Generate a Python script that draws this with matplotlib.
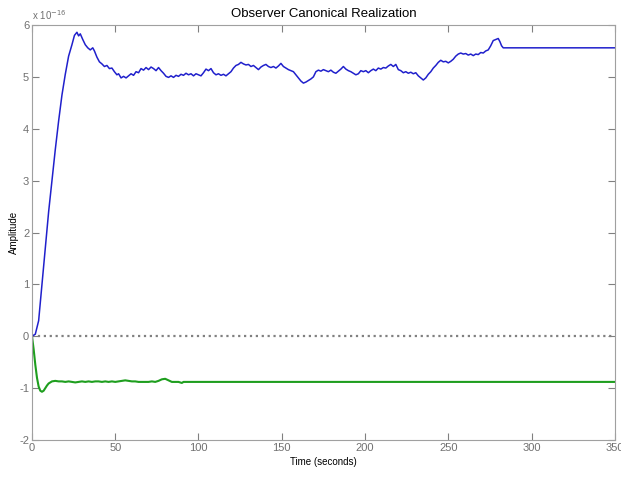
import matplotlib
import numpy as np

matplotlib.use("Agg")
import matplotlib.pyplot as plt

# step response data, amplitude in units of 1e-16
blue_t = [0, 2, 4, 6, 8, 10, 12, 14, 16, 18, 20, 22, 24, 25.5, 27, 28, 29, 30.5, 32, 33.5,
          35, 36.5, 37.5, 39, 40.5, 42, 43.5, 45, 46.5, 48, 49.5, 51, 52, 53.5, 55, 56.5,
          58, 59.5, 61, 62.5, 64, 65.5, 67, 68.5, 70, 71.5, 73, 74.5, 76, 77.5, 79, 80.5,
          82, 83.5, 85, 86.5, 88, 89.5, 91, 92.5, 94, 95.5, 97, 98.5, 100, 101.5, 103,
          104.5, 106, 107.5, 109, 110.5, 112, 113.5, 115, 116.5, 118, 119.5, 121, 122.5,
          124, 125.5, 127, 128.5, 130, 131.5, 133, 134.5, 136, 137.5, 139, 140.5, 142,
          143.5, 145, 146.5, 148, 149.5, 151, 152.5, 154, 155.5, 157, 158.5, 160, 161.5,
          163, 164.5, 166, 167.5, 169, 170.5, 172, 173.5, 175, 176.5, 178, 179.5, 181,
          182.5, 184, 185.5, 187, 188.5, 190, 191.5, 193, 194.5, 196, 197.5, 199, 200.5,
          202, 203.5, 205, 206.5, 208, 209.5, 211, 212.5, 214, 215.5, 217, 218.5, 220,
          221.5, 223, 224.5, 226, 227.5, 229, 230.5, 232, 233.5, 235, 236.5, 238, 239.5,
          241, 242.5, 244, 245.5, 247, 248.5, 250, 251.5, 253, 254.5, 256, 257.5, 259,
          260.5, 262, 263.5, 265, 266.5, 268, 269.5, 271, 272.5, 274, 275.5, 277, 278.5,
          280, 281, 282, 283, 350]
blue_v = [0, 0.04, 0.3, 1.0, 1.7, 2.4, 3.0, 3.6, 4.15, 4.65, 5.05, 5.4, 5.62, 5.8, 5.86,
          5.79, 5.83, 5.72, 5.62, 5.56, 5.52, 5.56, 5.5, 5.38, 5.29, 5.25, 5.2, 5.22, 5.16,
          5.17, 5.1, 5.04, 5.06, 4.98, 5.01, 4.98, 5.02, 5.06, 5.03, 5.1, 5.08, 5.16, 5.13,
          5.18, 5.14, 5.19, 5.16, 5.12, 5.18, 5.12, 5.07, 5.01, 4.99, 5.02, 4.99, 5.03,
          5.01, 5.05, 5.03, 5.07, 5.04, 5.06, 5.02, 5.06, 5.04, 5.02, 5.08, 5.15, 5.12,
          5.16, 5.08, 5.04, 5.06, 5.03, 5.05, 5.02, 5.06, 5.1, 5.17, 5.22, 5.24, 5.28,
          5.25, 5.23, 5.24, 5.2, 5.22, 5.18, 5.14, 5.19, 5.22, 5.24, 5.2, 5.18, 5.2, 5.17,
          5.21, 5.26, 5.2, 5.17, 5.14, 5.12, 5.1, 5.04, 4.98, 4.92, 4.88, 4.9, 4.93, 4.96,
          5.0, 5.1, 5.13, 5.11, 5.14, 5.12, 5.1, 5.13, 5.09, 5.07, 5.11, 5.15, 5.2, 5.15,
          5.12, 5.1, 5.07, 5.04, 5.06, 5.12, 5.1, 5.12, 5.08, 5.12, 5.15, 5.12, 5.17, 5.15,
          5.18, 5.17, 5.21, 5.24, 5.2, 5.24, 5.14, 5.12, 5.08, 5.1, 5.07, 5.09, 5.06, 5.08,
          5.02, 4.98, 4.94, 4.98, 5.05, 5.1, 5.17, 5.22, 5.28, 5.32, 5.29, 5.3, 5.27, 5.3,
          5.34, 5.4, 5.44, 5.46, 5.44, 5.45, 5.42, 5.44, 5.41, 5.44, 5.43, 5.47, 5.46, 5.5,
          5.52, 5.6, 5.7, 5.72, 5.74, 5.68, 5.6, 5.56, 5.56]

green_t = [0, 1, 2, 3, 4, 5, 6, 7, 8, 9, 10, 11, 12, 14, 16, 18, 20, 22, 24, 26, 28, 30,
           32, 34, 36, 38, 40, 42, 44, 46, 48, 50, 52, 54, 56, 58, 60, 62, 64, 66, 68, 70,
           72, 74, 76, 78, 80, 82, 84, 86, 88, 90, 91, 350]
green_v = [0, -0.25, -0.55, -0.8, -0.97, -1.05, -1.07, -1.05, -1.0, -0.95, -0.91, -0.89,
           -0.87, -0.86, -0.87, -0.87, -0.88, -0.87, -0.88, -0.89, -0.88, -0.87, -0.88,
           -0.87, -0.88, -0.87, -0.87, -0.88, -0.87, -0.88, -0.87, -0.88, -0.87, -0.86,
           -0.85, -0.86, -0.87, -0.87, -0.88, -0.88, -0.88, -0.88, -0.87, -0.88, -0.86,
           -0.83, -0.82, -0.85, -0.88, -0.88, -0.88, -0.9, -0.88, -0.88]

zero_t = [0, 350]
zero_v = [0, 0]

x_ticks = [0, 50, 100, 150, 200, 250, 300, 350]
y_ticks = [-2, -1, 0, 1, 2, 3, 4, 5, 6]

plt.rcParams["font.family"] = ["Liberation Sans", "DejaVu Sans"]
plt.rcParams["axes.unicode_minus"] = False

fig = plt.figure(figsize=(6.21, 4.79), dpi=100)
ax = fig.add_axes([0.0515, 0.0814, 0.9385, 0.8664])

ax.plot(zero_t, zero_v, color="#808080", linestyle=":", linewidth=1.6)
ax.plot(green_t, green_v, color="#1e9e1e", linewidth=1.5)
ax.plot(blue_t, blue_v, color="#2020cc", linewidth=1.1)

ax.set_xlim(0, 350)
ax.set_ylim(-2, 6)
ax.set_xticks(x_ticks)
ax.set_yticks(y_ticks)
ax.tick_params(direction="in", top=True, right=True, colors="#808080",
               labelcolor="#707070", labelsize=8, length=5, pad=2)
for spine in ax.spines.values():
    spine.set_color("#a0a0a0")

ax.set_title("Observer Canonical Realization", fontsize=9.5, pad=6)
ax.set_xlabel("Time (seconds)", fontsize=7, labelpad=3)
ax.set_ylabel("Amplitude", fontsize=7)
ax.yaxis.set_label_coords(-0.022, 0.5)
ax.text(0.0, 1.008, "x 10$^{-16}$", transform=ax.transAxes, fontsize=7,
        color="#707070", ha="left", va="bottom")

fig.savefig("out.png", dpi=100)
plt.close(fig)
